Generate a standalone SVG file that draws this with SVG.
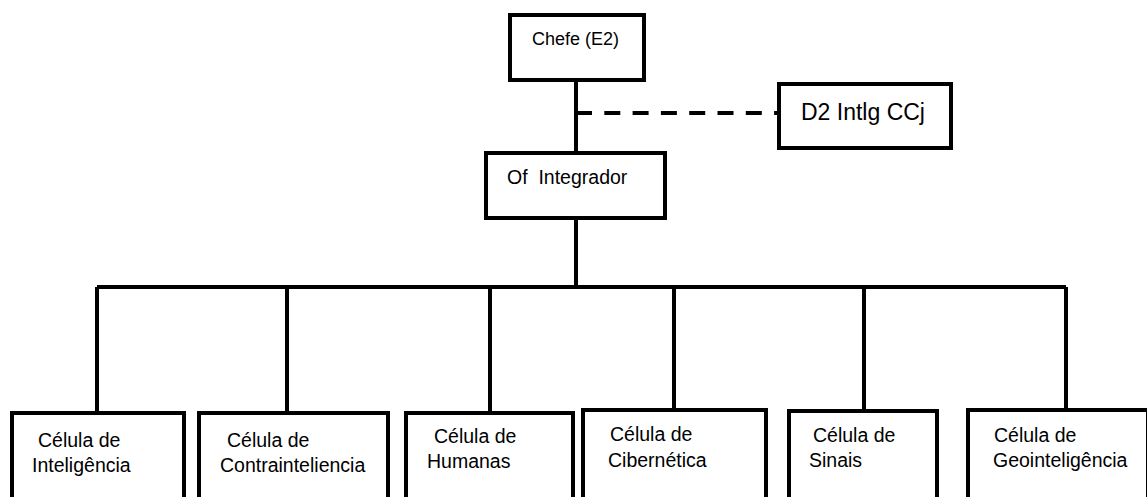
<svg xmlns="http://www.w3.org/2000/svg" width="1147" height="497" viewBox="0 0 1147 497">
<style>
.box{fill:#fff;stroke:#000;stroke-width:4}
.ln{fill:none;stroke:#000;stroke-width:4}
.dash{fill:none;stroke:#000;stroke-width:4;stroke-dasharray:16 12.3}
text{font-family:"Liberation Sans",Arial,sans-serif;font-size:19.5px;fill:#000}
</style>
<rect width="1147" height="497" fill="#fff"/>
<g id="connectors">
<path class="ln" d="M576 81V151M576 220V287M97 287H1066M97 287V413M287 287V413M490 287V413M674 287V410M864 287V411M1066 287V410"/>
<path class="dash" d="M576 113H777"/>
</g>
<g id="chefe"><rect class="box" x="510" y="15" width="134" height="65"/><text x="532" y="45" style="font-size:18px">Chefe (E2)</text></g>
<g id="d2"><rect class="box" x="779" y="84" width="172" height="64"/><text x="801" y="120" style="font-size:23px">D2 Intlg CCj</text></g>
<g id="integrador"><rect class="box" x="486" y="153" width="179" height="65"/><text x="507" y="184" xml:space="preserve">Of  Integrador</text></g>
<g id="inteligencia"><rect class="box" x="12" y="413" width="172" height="100"/><text x="38" y="447">Célula de</text><text x="32" y="472">Inteligência</text></g>
<g id="contrainteligencia"><rect class="box" x="199" y="413" width="189" height="100"/><text x="227" y="447">Célula de</text><text x="220" y="472">Contrainteliencia</text></g>
<g id="humanas"><rect class="box" x="406" y="413" width="167" height="100"/><text x="434" y="443">Célula de</text><text x="427" y="468">Humanas</text></g>
<g id="cibernetica"><rect class="box" x="583" y="410" width="183" height="100"/><text x="610" y="441">Célula de</text><text x="608" y="467">Cibernética</text></g>
<g id="sinais"><rect class="box" x="789" y="411" width="148" height="100"/><text x="813" y="442">Célula de</text><text x="809" y="467">Sinais</text></g>
<g id="geointeligencia"><rect class="box" x="968" y="410" width="180" height="100"/><text x="994" y="442">Célula de</text><text x="993" y="467">Geointeligência</text></g>
</svg>
